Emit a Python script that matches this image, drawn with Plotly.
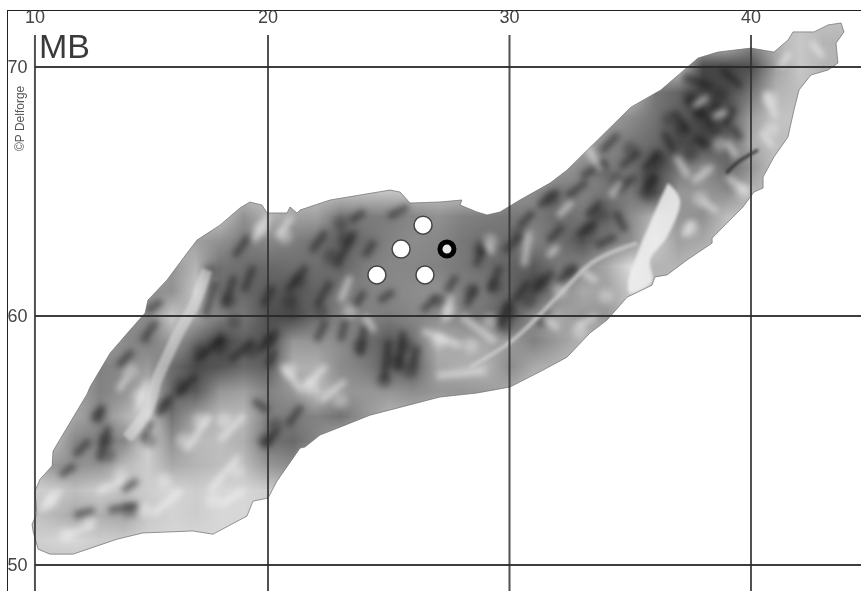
import plotly.graph_objects as go

# ---- axes ----
lon_ticks = [10.35, 20, 30, 40]
lon_labels = ["10", "20", "30", "40"]
lat_ticks = [50, 60, 70]
lat_labels = ["50", "60", "70"]

# ---- occurrence records (lon, lat) ----
open_lon = [24.51, 25.51, 26.42, 26.50]
open_lat = [61.65, 62.69, 63.65, 61.65]
solid_lon = [27.41]
solid_lat = [62.69]

# ---- land outline (lon, lat) ----
land_lon = [10.27,10.23,10.43,10.35,10.56,11.06,11.10,11.51,11.88,12.51,12.63,13.46,14.29,14.91,15.03,15.82,16.65,17.06,18.01,18.84,19.25,19.75,19.96,20.79,20.91,21.20,21.33,22.57,23.81,25.05,25.47,25.88,27.12,28.03,27.95,28.65,29.07,29.61,30.43,31.68,32.38,32.67,33.79,35.03,36.27,37.23,37.81,38.63,40.00,40.95,41.53,41.74,42.61,43.19,43.73,43.85,43.52,43.60,43.19,42.48,41.99,41.78,41.53,40.95,40.50,40.50,40.12,39.67,39.01,38.39,38.39,37.35,36.52,36.02,35.90,34.87,34.04,33.33,32.38,31.39,30.02,28.65,27.12,25.47,24.22,23.19,22.15,21.53,21.33,20.37,20.00,19.38,19.13,17.72,16.89,14.82,13.75,11.93,10.97,10.48,10.27]
land_lat = [51.37,51.65,52.05,52.97,53.45,53.98,54.58,55.26,55.86,56.87,57.15,58.51,59.44,60.12,60.64,61.45,62.53,63.05,63.65,64.34,64.58,64.46,64.14,64.14,64.38,64.14,64.26,64.66,64.86,65.06,64.98,64.54,64.58,64.66,64.46,64.18,64.06,64.18,64.66,65.34,65.86,66.14,67.19,68.39,69.08,69.88,70.36,70.60,70.76,70.60,71.08,71.41,71.41,71.69,71.77,71.41,70.96,70.16,69.88,69.68,69.08,68.27,67.19,66.39,65.58,65.14,64.98,64.38,63.73,63.13,62.93,62.25,61.65,61.57,61.24,60.76,59.84,59.32,58.35,57.83,57.15,56.91,56.75,56.35,56.02,55.62,55.22,54.74,54.70,53.37,52.69,52.57,51.97,51.24,51.37,51.29,51.04,50.44,50.44,50.64,51.37]

# ---- relief brightness, one list per latitude, columns are whole degrees of longitude from 10 to 44 ----
relief_lons = list(range(10, 45))
relief_lats = [72,71,70,69,68,67,66,65,64,63,62,61,60,59,58,57,56,55,54,53,52,51,50]
P = 195
r72 = [P]*35
r71 = [P]*30 + [140,180,200,180,180]
r70 = [P]*28 + [70,70,80,160,200,180,180]
r69 = [P]*26 + [120,100,65,75,120,180,190,190,190]
r68 = [P]*24 + [160,140,115,95,70,85,160,195,195,195,195]
r67 = [P]*23 + [170,140,120,105,75,70,100,175,190,190,190,190]
r66 = [P]*22 + [160,135,125,115,70,115,140,105,150,195,195,195,195]
r65 = [P]*20 + [150,140,115,130,115,120,80,150,150,140,180,195,195,195,195]
r64 = [P]*9 + [145,180,160,160,120,125,125,135,145,130,125,120,125,105,120,95,140,180,150,145,190,195,195,195,195,195]
r63 = [P]*7 + [160,145,125,135,125,115,95,110,130,140,135,120,110,110,130,115,85,125,140,205,160,170,195,195,195,195,195,195]
r62 = [P]*6 + [150,180,115,110,105,110,110,100,125,135,135,130,120,110,100,90,120,135,170,220,180,180,195,195,195,195,195,195,195]
r61 = [P]*5 + [145,145,200,110,105,90,85,100,120,130,135,140,145,130,120,100,80,130,170,160,200,180,195,195,195,195,195,195,195,195]
r60 = [P]*4 + [140,140,200,165,130,120,80,70,110,130,130,125,135,140,130,115,85,145,170,150,150,195,195,195,195,195,195,195,195,195,195]
r59 = [P]*3 + [165,140,125,155,110,70,95,85,150,150,140,115,90,115,175,165,165,155,130,155,180,195,195,195,195,195,195,195,195,195,195,195]
r58 = [P]*3 + [130,135,155,110,75,85,105,95,175,175,140,125,95,95,165,175,180,140,170,180,195,195,195,195,195,195,195,195,195,195,195,195]
r57 = [P]*2 + [170,130,145,185,105,90,150,160,130,150,195,150,150,150,140,150,150,155,170,195,195,195,195,195,195,195,195,195,195,195,195,195,195]
r56 = [P]*2 + [165,140,175,210,115,160,185,185,125,125,130,115,150,180,180,180,180,180,195,195,195,195,195,195,195,195,195,195,195,195,195,195,195]
r55 = [P]*2 + [135,125,135,210,145,185,190,175,115,105,135,180,180,180,180,195,195,195,195,195,195,195,195,195,195,195,195,195,195,195,195,195,195]
r54 = [P]*1 + [150,145,150,185,205,170,180,190,190,150,140,195,195,195,195,195,195,195,195,195,195,195,195,195,195,195,195,195,195,195,195,195,195,195]
r53 = [205,205,190,205,195,205,215,205,215,215,205,190,195,195,195,195,195,195,195,195,195,195,195,195,195,195,195,195,195,195,195,195,195,195,195]
r52 = [200,185,170,175,165,200,210,205,215,215,205,195,195,195,195,195,195,195,195,195,195,195,195,195,195,195,195,195,195,195,195]+[P]*4
r51 = [205,210,215,205,205,210,215,215,215,215,205,195,195,195,195,195,195,195,195,195,195,195,195,195,195,195,195,195,195,195,195]+[P]*4
r50 = [P]*35
relief_rows = [r72,r71,r70,r69,r68,r67,r66,r65,r64,r63,r62,r61,r60,r59,r58,r57,r56,r55,r54,r53,r52,r51,r50]

# ---- sharper landforms ----
lake_lon = [36.56,37.06,36.52,35.82,35.90,34.99,34.91,35.40,35.82,36.23]
lake_lat = [65.34,64.66,63.17,62.25,61.37,60.92,61.33,62.77,63.73,64.66]
trough_lon = [28.36,30.14,31.97,33.46,35.28]
trough_lat = [57.95,59.04,60.76,62.17,62.93]
valley_lon = [17.47,16.89,16.36,15.82,15.40,14.99,14.16]
valley_lat = [61.85,60.36,59.44,58.35,57.43,56.18,55.10]
gorge_lon = [38.98,39.46,40.29]
gorge_lat = [65.74,66.18,66.67]

# ---- dark and pale patches of the relief ----
dark_lon = [35.8,35.7,37.5,37.9,38.7,38.5,37.5,37.1,36.2,33.3,33.7,32.5,31.3,30.8,30.0,29.8,29.4,23.2,23.0,22.6,21.3,20.9,20.1,19.3,18.0,17.2,16.4,15.7,15.1,13.3,13.4,13.0,25.7,25.3,25.9,24.8,23.8,20.3,19.9,17.6,18.4,18.6,22.2,27.1,28.4,28.8,30.4,31.7,14.3,34.4,33.8,35.0,36.6]
dark_lat = [65.5,64.9,68.7,68.1,68.9,67.5,66.5,67.5,66.3,63.5,64.1,61.8,61.4,60.6,60.2,59.6,61.2,63.1,63.7,62.4,61.4,60.6,59.0,58.6,58.8,58.6,57.2,56.4,55.0,55.0,54.4,56.0,58.8,58.2,57.8,57.4,58.8,55.6,55.0,61.8,60.6,59.8,60.2,60.6,61.0,62.7,63.3,64.7,52.2,65.5,65.9,66.7,67.9]
pale_lon = [20.9,21.7,23.0,17.2,16.5,18.2,18.7,17.7,14.9,11.0,12.6,11.6,15.7,19.7,20.7,23.4,27.1,28.4,29.2,27.5,29.2,32.1,38.7,40.8,40.8,39.7,37.9,37.5,34.0,32.9,14.3,14.7,13.9]
pale_lat = [57.8,57.2,56.6,55.8,55.0,55.8,53.8,52.6,52.2,52.6,51.8,51.2,53.4,63.5,63.2,60.2,59.0,58.8,59.8,60.2,63.0,61.0,66.9,68.7,67.5,65.0,64.7,63.5,60.8,59.4,57.8,56.8,53.6]

# ---- ridges and gullies: (lon, lat, lon, lat) of each stroke ----
ridge_strokes = [
 (37.2,69.6,38.4,69.2),(38.8,69.9,39.6,69.2),(37.4,68.8,38,68),(38.6,68.6,38.2,67.6),(39.3,68.4,38.9,67.6),
 (36.8,68.2,37.4,67.4),(36.4,67.4,36.8,66.6),(37.7,67.2,38.2,66.8),(35.6,65.9,36.2,66.6),(35.6,65,36,65.6),(39.2,67.6,39.6,67.1),
 (33.8,66.6,34.5,67.3),(33,65.6,34,66.2),(34.6,66,35.4,66.6),(34.4,65,35.2,65.6),(32.4,64.8,33.2,65.4),(31.2,64.4,32,65),
 (33.2,64,33.8,64.6),(32.8,63.2,33.6,63.8),(34.4,64.2,34.8,63.4),(30.4,63.6,31,64.2),(31.6,63,32.2,63.6),(29.8,62.6,30.4,63.2),(33.6,62.8,34.4,63.2),
 (31,61,31.8,61.8),(32,61.4,32.8,62),(30.2,60.6,30.8,61.4),(29.6,59.6,30,60.6),(29.2,61,29.6,62),(28.2,60.4,28.6,61.2),(28.6,62,29,63),(31.2,59.6,31.6,60.2),
 (22.8,62,23.6,63.4),(23.4,63.8,24,64.2),(21.8,62.6,22.4,63.4),(20.8,61,21.6,62),(22,60.4,22.6,61.4),(24.6,60.6,25.2,61),(26.4,60.2,27,60.8),
 (25,64,25.8,64.4),(27.4,61,27.8,61.6),(24,62.4,24.4,63),(23.6,60.4,24,61),
 (25.4,57.8,25.6,59.4),(24.8,57.4,25,59),(26,58,26.2,58.8),(23.8,58.4,24,59.6),(23,59,23.2,59.8),(22,59,22.4,59.8),
 (17,58.2,18.2,59.2),(18.4,58.2,19.4,59),(19.6,58.6,20.4,59.4),(16.2,56.8,17,57.6),(15.4,56,16,56.8),(14.8,55,15.2,55.8),(20,58,20.3,58.6),
 (19.8,54.8,20.4,55.4),(20.8,55.6,21.4,56.4),(19.4,56.6,20,56.2),
 (17.4,60,17.8,61.4),(18.2,60.4,18.6,61.6),(19,61,19.4,62),(19.8,60.4,20.2,61.2),(18.6,62.4,19.2,63.2),(14.8,59,15.4,59.8),(13.8,58,14.4,58.6),(15,60.2,15.6,60.6),
 (13,54.2,13.4,55.6),(12.8,55.8,13.2,56.4),(12,54.4,12.6,55),(11.4,53.6,12,54),(13.4,52.2,14.6,52.4),(12,52,12.8,52.2),(14,53,14.6,53.4),
]
gully_strokes = [
 (37.6,68.4,38.2,68.8),(38.4,68,39,68.2),(39,67,39.4,66.4),(40.6,69,41,68),(40.4,67.4,40.9,66.8),(41.2,70,41.6,70.6),(42.5,71,43,70.4),
 (36.9,66.4,37.4,65.6),(37.6,65.4,38.4,66),(39,65.6,39.8,65),(38,64.6,38.6,64.2),(37.6,63.8,37.2,63.2),
 (33.2,66.8,33.8,65.8),(34.2,64.8,34.6,65.4),(32,64,32.6,64.6),(30.6,62,30.8,63.4),(31.6,62.4,32,62.8),(33,61.8,33.6,61.4),(31.4,60,32,59.5),(32.8,59.6,33.6,60),
 (28,60,29.4,59),(26.4,59.4,28,58.8),(27.3,59.8,27.6,60.8),(29,63,29.3,62.5),(21.6,57.2,22.4,58),(20.6,58,21.4,57),(22.2,56.6,23.2,57.4),(24,60,24.4,59.4),
 (23,60.6,23.4,61.6),(20.4,63.2,21,64),(19.4,63,20,64),(27,57.6,29,57.8),
 (16.6,54.6,17.6,56),(18,55,19,56),(17.6,53,18.8,54.4),(15.2,52,16.4,53),(10.6,52.2,11.4,53),(11.6,51.2,12.8,51.6),(13,53,14,53.4),(14.6,56.2,15,57.4),(13.8,57,14.2,57.6),(18,52.4,19,53),
]

x_min, x_max = 9.234, 44.555
y_min, y_max = 48.96, 72.25
grid_top = 71.29

def stroke_xy(strokes):
    xs, ys = [], []
    for a, b, c, d in strokes:
        xs += [a, c, None]
        ys += [b, d, None]
    return xs, ys

ridge_x, ridge_y = stroke_xy(ridge_strokes)
gully_x, gully_y = stroke_xy(gully_strokes)

fig = go.Figure()
fig.add_trace(go.Heatmap(x=relief_lons, y=relief_lats, z=relief_rows, zmin=0, zmax=255,
                         colorscale=[[0, "#000000"], [1, "#ffffff"]], showscale=False,
                         zsmooth="best", hoverinfo="skip"))
fig.add_trace(go.Scatter(x=dark_lon, y=dark_lat, mode="markers",
                         marker=dict(size=15, color="rgba(20,20,20,0.3)"), hoverinfo="skip"))
fig.add_trace(go.Scatter(x=pale_lon, y=pale_lat, mode="markers",
                         marker=dict(size=15, color="rgba(250,250,250,0.35)"), hoverinfo="skip"))
fig.add_trace(go.Scatter(x=ridge_x, y=ridge_y, mode="lines",
                         line=dict(color="rgba(15,15,15,0.5)", width=7), hoverinfo="skip"))
fig.add_trace(go.Scatter(x=gully_x, y=gully_y, mode="lines",
                         line=dict(color="rgba(245,245,245,0.6)", width=6), hoverinfo="skip"))
fig.add_trace(go.Scatter(x=lake_lon, y=lake_lat, mode="lines", fill="toself",
                         fillcolor="rgba(240,240,240,0.85)", line=dict(width=0, shape="spline"), hoverinfo="skip"))
fig.add_trace(go.Scatter(x=trough_lon, y=trough_lat, mode="lines",
                         line=dict(color="rgba(205,205,205,0.8)", width=4, shape="spline"), hoverinfo="skip"))
fig.add_trace(go.Scatter(x=valley_lon, y=valley_lat, mode="lines",
                         line=dict(color="rgba(225,225,225,0.55)", width=11, shape="spline"), hoverinfo="skip"))
fig.add_trace(go.Scatter(x=gorge_lon, y=gorge_lat, mode="lines",
                         line=dict(color="rgba(30,30,30,0.8)", width=3, shape="spline"), hoverinfo="skip"))
# white sea around the land: outer rectangle with the land as a hole
mask_x = [x_min, x_max, x_max, x_min, x_min, None] + land_lon
mask_y = [y_min, y_min, y_max, y_max, y_min, None] + land_lat
fig.add_trace(go.Scatter(x=mask_x, y=mask_y, mode="lines", fill="toself", fillcolor="#ffffff",
                         line=dict(width=0), hoverinfo="skip"))
fig.add_trace(go.Scatter(x=land_lon, y=land_lat, mode="lines",
                         line=dict(color="rgba(110,110,110,0.7)", width=1), hoverinfo="skip"))
# graticule
for t in lon_ticks:
    fig.add_trace(go.Scatter(x=[t, t], y=[grid_top, y_min], mode="lines",
                             line=dict(color="rgba(50,50,50,0.85)", width=2), hoverinfo="skip"))
for t in lat_ticks:
    fig.add_trace(go.Scatter(x=[lon_ticks[0], x_max], y=[t, t], mode="lines",
                             line=dict(color="rgba(40,40,40,0.9)", width=2), hoverinfo="skip"))
fig.add_trace(go.Scatter(x=open_lon, y=open_lat, mode="markers",
                         marker=dict(size=18, color="#ffffff", line=dict(color="#444444", width=1.5))))
fig.add_trace(go.Scatter(x=solid_lon, y=solid_lat, mode="markers",
                         marker=dict(size=14, color="#e8e8e8", line=dict(color="#000000", width=5))))

fig.update_layout(
    width=861, height=591, autosize=False, showlegend=False,
    margin=dict(l=8, r=0, t=11, b=0), paper_bgcolor="#ffffff", plot_bgcolor="#ffffff",
    font=dict(family="Liberation Sans", color="#444444", size=18),
    xaxis=dict(side="top", range=[x_min, x_max], tickvals=lon_ticks, ticktext=lon_labels,
               showgrid=False, zeroline=False, showline=True, linecolor="#222222", linewidth=1,
               ticks="", ticklabelposition="inside", automargin=False),
    yaxis=dict(range=[y_min, y_max], tickvals=lat_ticks, ticktext=lat_labels,
               showgrid=False, zeroline=False, showline=True, linecolor="#222222", linewidth=1,
               ticks="", ticklabelposition="inside", automargin=False),
    annotations=[
        dict(text="MB", xref="x", yref="y", x=10.45, y=70.0, xanchor="left", yanchor="bottom",
             showarrow=False, yshift=0, font=dict(size=34, color="#3a3a3a")),
        dict(text="©P Delforge", xref="x", yref="y", x=9.73, y=67.95, textangle=-90,
             showarrow=False, font=dict(size=12, color="#555555")),
    ],
)
soften = (
    "document.body.style.margin='0';document.body.style.overflow='hidden';"
    "var t=document.querySelectorAll('.scatterlayer .trace');"
    "[0,1].forEach(function(i){t[i].style.filter='blur(3px)';});"
    "[2,3].forEach(function(i){t[i].style.filter='blur(3px)';});"
    "[4,5,6,7].forEach(function(i){t[i].style.filter='blur(1.5px)';});"
    "document.querySelector('.plotly-graph-div').style.filter='blur(0.5px)';"
)
fig.write_html("out.html", config={"displayModeBar": False}, post_script=soften)
